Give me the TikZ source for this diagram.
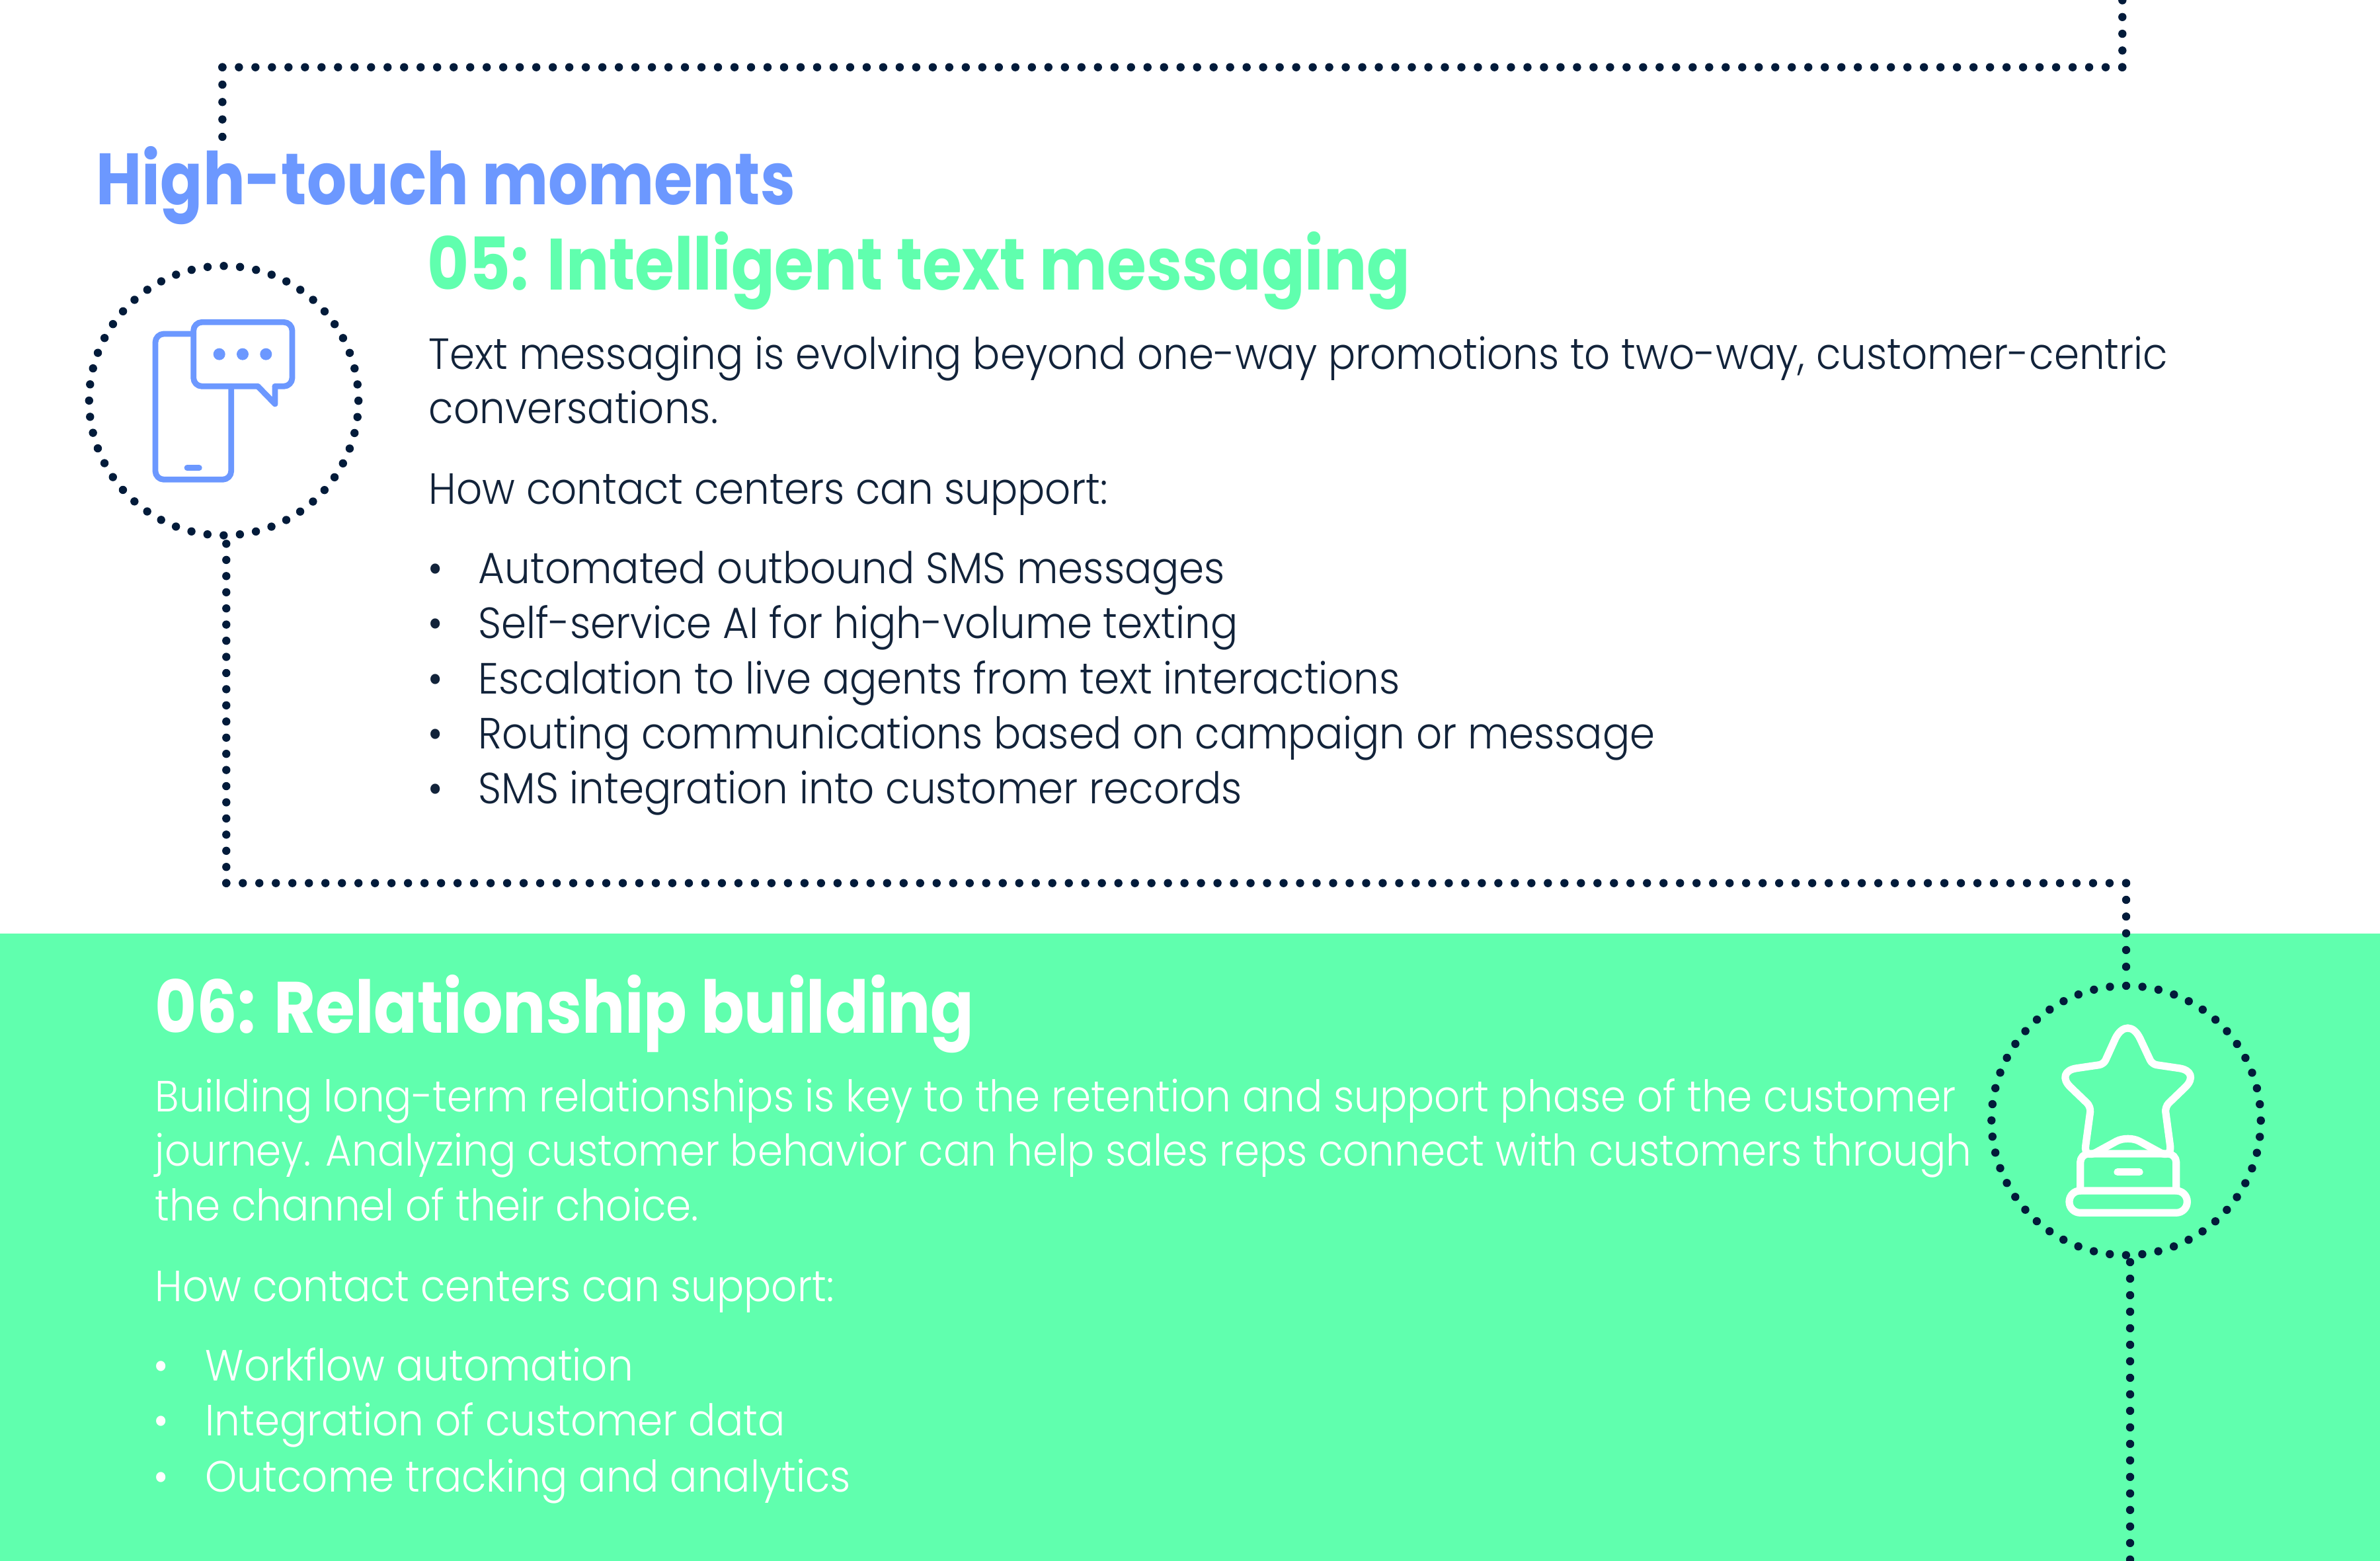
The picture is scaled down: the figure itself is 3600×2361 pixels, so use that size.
\documentclass[tikz,border=0pt]{standalone}
\usepackage{fontspec}
\newfontfamily\bodyfont[FakeStretch=0.926]{Poppins Light}
\newfontfamily\headfont[FakeStretch=0.88]{Poppins Bold}
\newfontfamily\topfont[FakeStretch=0.86]{Poppins Bold}
\definecolor{dotdark}{HTML}{021B3A}
\definecolor{mintgreen}{HTML}{60FFAE}
\definecolor{iconblue}{HTML}{6C98FF}
\definecolor{textdark}{HTML}{12233A}
\tikzset{
  dotline/.style={dotdark,line width=3.1pt,line cap=round,dash pattern=on 0pt off 6.247pt},
  dotvert/.style={dotdark,line width=3.1pt,line cap=round,dash pattern=on 0pt off 6.325pt},
  dotring/.style={circle,draw=dotdark,line width=3.1pt,line cap=round,dash pattern=on 0pt off 6.153pt,minimum size=101.85pt,inner sep=0pt,outer sep=0pt},
  headtext/.style={anchor=base west,inner sep=0pt,font=\topfont\fontsize{27.5}{30}\selectfont},
  subtext/.style={anchor=base west,inner sep=0pt,font=\headfont\fontsize{27.5}{30}\selectfont},
  bodytext/.style={anchor=base west,inner sep=0pt,font=\bodyfont\fontsize{16.5}{21}\selectfont},
  iconline/.style={line width=2.2pt,line cap=round,line join=round},
  trophyline/.style={white,line width=2.8pt,line cap=round,line join=round}
}
\begin{document}
\begin{tikzpicture}[x=0.25pt,y=-0.25pt]
\useasboundingbox (0,0) rectangle (3600,2361);
\fill[mintgreen] (0,1412) rectangle (3600,2361);

\node[dotring] (ring5) at (338.5,606) {};
\node[dotring] (ring6) at (3216,1694.7) {};
\coordinate (top1) at (3210.3,0);
\coordinate (top2) at (3210.3,101.7);
\coordinate (top3) at (336.4,101.7);
\coordinate (top4) at (336.4,210);
\coordinate (mid1) at (342.3,820);
\coordinate (mid2) at (342.3,1335.7);
\coordinate (mid3) at (3216,1335.7);
\coordinate (low1) at (3222,1909);
\coordinate (low2) at (3222,2361);
\draw[dotvert] (top2) -- (top1);
\draw[dotline] (top3) -- (top2);
\draw[dotvert,dash pattern=on 0pt off 6.58pt] (top3) -- (top4);
\draw[dotline] (mid2) -- (mid3);
\draw[dotvert,dash pattern=on 0pt off 6.11pt] (mid2) -- (mid1);
\draw[dotvert,shorten >=5pt] (mid3) -- (ring6.north);
\draw[dotline] (low1) -- (low2);

\draw[iconline,iconblue,rounded corners=3.2pt] (292.7,505) -- (235,505) -- (235,725.3) -- (349.7,725.3) -- (349.7,584.3);
\draw[iconline,iconblue,rounded corners=3.2pt] (390,584.3) -- (292.7,584.3) -- (292.7,487.3) -- (442,487.3) -- (442,584.3) -- (416,584.3);
\draw[iconline,iconblue] (390,584.3) -- (416,611) -- (416,584.3);
\foreach \x [count=\i] in {331.7,367,402.3}
  \fill[iconblue] (\x,535.7) circle (2.25pt) node (msgdot\i) {};
\draw[iconline,iconblue] (283,707.7) -- (301.3,707.7);

\draw[trophyline] (3200,1570) [rounded corners=11pt] -- (3218.7,1531.7) [rounded corners=1.7pt] -- (3255.3,1609.7) [rounded corners=8.5pt] -- (3330,1620.7) [rounded corners=2pt] -- (3274.7,1674) [rounded corners=5pt] -- (3285.3,1753) [rounded corners=5pt] -- (3218.7,1716.7) [rounded corners=5pt] -- (3152,1753) [rounded corners=2pt] -- (3162.7,1674) [rounded corners=8.5pt] -- (3107.3,1620.7) [rounded corners=1.7pt] -- (3182,1609.7) [rounded corners=11pt] -- (3200,1570);
\draw[trophyline,rounded corners=3.2pt] (3146.7,1801) -- (3146.7,1745) -- (3291.7,1745) -- (3291.7,1801);
\draw[trophyline,rounded corners=4.1pt] (3170,1801) -- (3130,1801) -- (3130,1834.3) -- (3308.3,1834.3) -- (3308.3,1801) -- (3170,1801);
\draw[trophyline] (3203,1772.7) -- (3236,1772.7);

\node[headtext,text=iconblue] (hightouch) at (145,310) {High-touch moments};
\node[subtext,text=mintgreen] (title5) at (646,439) {05: Intelligent text messaging};
\node[bodytext,text=textdark] (intro5a) at (648,559) {Text messaging is evolving beyond one-way promotions to two-way, customer-centric};
\node[bodytext,text=textdark] (intro5b) at (648,641) {conversations.};
\node[bodytext,text=textdark] (how5) at (648,763) {How contact centers can support:};
\foreach \y/\txt [count=\i] in {883/Automated outbound SMS messages,966/Self-service AI for high-volume texting,1050/Escalation to live agents from text interactions,1133/Routing communications based on campaign or message,1216/SMS integration into customer records}{
  \node[bodytext,text=textdark] (bul5\i) at (647,\y) {•};
  \node[bodytext,text=textdark] (item5\i) at (723,\y) {\txt};
}

\node[subtext,text=white] (title6) at (234,1563) {06: Relationship building};
\node[bodytext,text=white] (intro6a) at (234,1682) {Building long-term relationships is key to the retention and support phase of the customer};
\node[bodytext,text=white] (intro6b) at (234,1764) {journey. Analyzing customer behavior can help sales reps connect with customers through};
\node[bodytext,text=white] (intro6c) at (234,1847) {the channel of their choice.};
\node[bodytext,text=white] (how6) at (234,1969) {How contact centers can support:};
\foreach \y/\txt [count=\i] in {2088/Workflow automation,2171/Integration of customer data,2256/Outcome tracking and analytics}{
  \node[bodytext,text=white] (bul6\i) at (232,\y) {•};
  \node[bodytext,text=white] (item6\i) at (310,\y) {\txt};
}
\end{tikzpicture}
\end{document}
